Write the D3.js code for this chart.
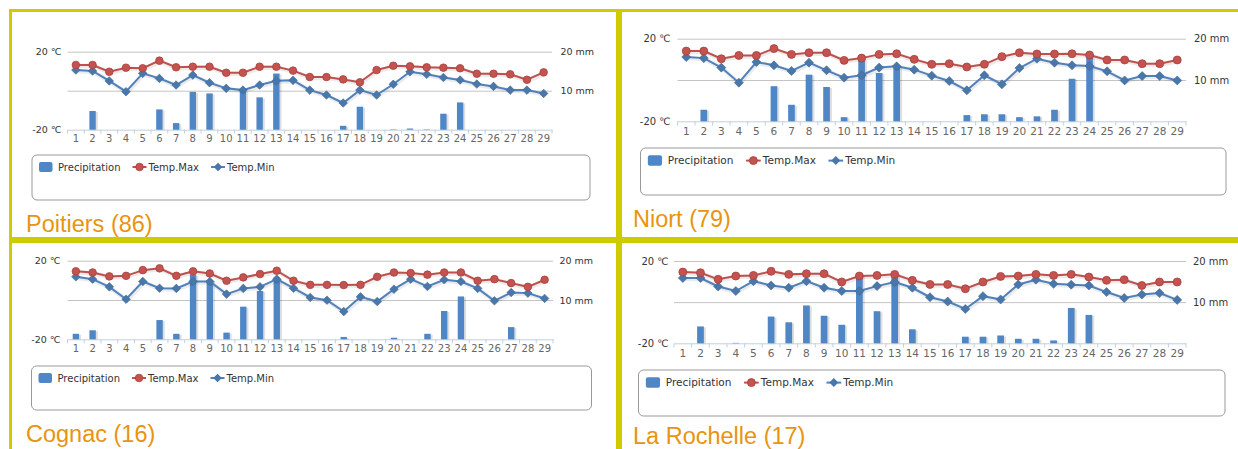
<!DOCTYPE html>
<html>
<head>
<meta charset="utf-8">
<script src="https://cdn.jsdelivr.net/npm/d3@7"></script>
<style>
  html, body { margin: 0; padding: 0; background: #fff; }
  svg { display: block; }
</style>
</head>
<body>
<svg id="chart" width="1238" height="449"></svg>
<script>
// tick labels / categories
var days = [1,2,3,4,5,6,7,8,9,10,11,12,13,14,15,16,17,18,19,20,21,22,23,24,25,26,27,28,29];
var tempLabels = [-20, 20];
var tempGrid = [0, 20];
var precipLabels = [10, 20];
var seriesNames = ["Precipitation", "Temp.Max", "Temp.Min"];
var stationNames = ["Poitiers (86)", "Niort (79)", "Cognac (16)", "La Rochelle (17)"];

// Poitiers
var poitiersPrecip = [0,4.8,0,0,0,5.2,1.7,9.7,9.3,0,10.0,8.3,14.4,0,0,0,1.0,5.9,0,0.1,0.3,0.1,4.1,7.0,0,0,0,0,0];
var poitiersMax = [13.2,13.2,9.7,11.8,11.5,15.4,12.0,12.3,12.3,9.2,9.2,12.3,12.3,10.3,7.0,7.0,5.8,4.3,10.6,12.8,12.5,12.0,11.8,11.5,8.7,8.7,8.4,5.6,9.4];
var poitiersMin = [10.6,10.1,5.0,-0.5,8.9,6.3,2.9,8.0,4.1,1.2,0.3,2.9,5.1,5.3,0.3,-2.2,-6.3,0.3,-2.2,3.3,9.7,8.4,6.8,5.5,3.4,2.2,0.3,0.3,-1.4];

// Niort
var niortPrecip = [0,2.8,0,0,0,8.5,4.0,11.3,8.3,1.0,15.0,11.7,13.2,0,0,0,1.5,1.7,1.7,1.0,1.2,2.8,10.3,16.0,0,0,0,0,0];
var niortMax = [14.0,14.0,10.3,11.9,11.9,15.2,12.4,13.2,13.2,9.5,10.6,12.4,12.7,10.0,7.6,7.9,6.3,7.6,11.3,13.2,12.6,12.6,12.7,12.1,9.7,9.7,7.9,7.9,9.7];
var niortMin = [11.1,10.6,6.0,-1.3,8.7,7.1,4.4,8.4,4.7,1.1,2.3,6.0,6.6,5.0,2.1,-0.5,-5.0,2.3,-2.1,5.8,10.3,8.4,7.1,6.8,4.2,-0.2,1.9,1.9,-0.2];

// Cognac
var cognacPrecip = [1.4,2.3,0,0,0,4.9,1.4,16.4,15.1,1.7,8.3,12.3,15.7,0,0,0,0.6,0,0,0.4,0,1.4,7.2,10.9,0,0,3.1,0,0];
var cognacMax = [14.6,14.0,12.0,12.3,15.2,16.1,12.3,14.6,13.5,9.8,11.5,13.2,14.9,9.8,7.7,7.7,7.6,7.7,11.8,14.0,13.7,12.9,14.0,14.0,9.8,10.6,8.6,6.7,10.3];
var cognacMin = [11.8,10.6,6.7,0.4,9.4,6.0,5.9,9.4,9.4,3.0,5.9,6.7,10.6,6.0,1.3,-0.1,-5.9,1.6,-0.8,5.5,10.6,6.9,10.3,9.4,5.9,-0.4,3.8,3.5,0.8];

// La Rochelle
var rochellePrecip = [0,4.1,0,0.1,0,6.5,5.1,9.2,6.7,4.5,16.7,7.8,17.0,3.4,0,0,1.6,1.6,1.9,1.1,1.1,0.7,8.6,6.9,0,0,0,0,0];
var rochelleMax = [14.6,14.3,11.1,12.7,13.0,15.0,13.5,13.8,13.8,9.8,12.7,13.0,13.5,10.6,8.6,8.6,6.5,9.8,12.5,12.7,13.5,13.0,13.5,12.2,10.6,10.9,8.1,9.8,9.8];
var rochelleMin = [11.7,11.7,7.6,5.4,10.2,8.1,7.0,10.2,7.0,5.4,5.4,7.8,9.8,7.0,2.4,0.3,-3.3,2.9,1.3,8.6,10.9,8.9,8.5,8.1,4.9,2.0,3.7,4.4,1.1];

var stations = [
    {name: stationNames[0], precip: poitiersPrecip, max: poitiersMax, min: poitiersMin},
    {name: stationNames[1], precip: niortPrecip, max: niortMax, min: niortMin},
    {name: stationNames[2], precip: cognacPrecip, max: cognacMax, min: cognacMin},
    {name: stationNames[3], precip: rochellePrecip, max: rochelleMax, min: rochelleMin}
];

// where each screenshot sits on the page
var layouts = [
    {x0: 67.5, x1: 552, top: 51.7, bottom: 129.7, leftLab: 61.5, rightLab: 560.5, box: [32, 155, 558, 45], title: [26, 232], k: 1},
    {x0: 677.5, x1: 1186, top: 38.7, bottom: 121.3, leftLab: 670.5, rightLab: 1194, box: [640.5, 148, 585.5, 47], title: [633, 227], k: 1.05},
    {x0: 67.5, x1: 553, top: 260.7, bottom: 339.3, leftLab: 60.5, rightLab: 559.5, box: [31.5, 366, 560, 44], title: [26, 442], k: 1},
    {x0: 674, x1: 1186, top: 261, bottom: 343.3, leftLab: 668.5, rightLab: 1193, box: [638.5, 370, 586.5, 46], title: [633, 443.5], k: 1.05}
];

var barColor = "#4f86c6";
var maxColor = "#c0504d";
var minColor = "#4f81bd";
var frameColor = "#cccc00";
var font = "'DejaVu Sans', Verdana, sans-serif";

var svg = d3.select("#chart");

//frame
svg.append("rect").attr("x", 9).attr("y", 9).attr("width", 1229).attr("height", 3).attr("fill", frameColor);
svg.append("rect").attr("x", 9).attr("y", 9).attr("width", 3).attr("height", 440).attr("fill", frameColor);
svg.append("rect").attr("x", 616).attr("y", 9).attr("width", 6).attr("height", 440).attr("fill", frameColor);
svg.append("rect").attr("x", 9).attr("y", 237).attr("width", 1229).attr("height", 6).attr("fill", frameColor);

function diamond(r) {
    return "M0," + (-r) + "L" + r + ",0L0," + r + "L" + (-r) + ",0Z";
}

function drawPanel(st, L) {
    var k = L.k;
    var g = svg.append("g");

    var x = d3.scaleBand().domain(days).range([L.x0, L.x1]);
    var yT = d3.scaleLinear().domain([-20, 20]).range([L.bottom, L.top]);
    var yP = d3.scaleLinear().domain([0, 20]).range([L.bottom, L.top]);
    var cx = function(i) { return x(days[i]) + x.bandwidth() / 2; };

    //grid lines
    g.append("g")
        .attr("transform", "translate(" + L.x0 + ",0)")
        .call(d3.axisLeft(yT).tickValues(tempGrid).tickSize(-(L.x1 - L.x0)).tickFormat(""))
        .call(function(a) { a.select(".domain").remove(); })
        .selectAll("line").attr("stroke", "#c4c4c4");

    //left labels
    g.append("g")
        .attr("transform", "translate(" + L.x0 + ",0)")
        .call(d3.axisLeft(yT).tickValues(tempLabels).tickSize(0)
            .tickPadding(L.x0 - L.leftLab)
            .tickFormat(function(d) { return d + " \u2103"; }))
        .call(function(a) { a.select(".domain").remove(); })
        .selectAll("text")
        .style("font-family", font).style("font-size", (9.5 * k) + "px").attr("fill", "#333");

    //right labels
    g.append("g")
        .attr("transform", "translate(" + L.x1 + ",0)")
        .call(d3.axisRight(yP).tickValues(precipLabels).tickSize(0)
            .tickPadding(L.rightLab - L.x1)
            .tickFormat(function(d) { return d + " mm"; }))
        .call(function(a) { a.select(".domain").remove(); })
        .selectAll("text")
        .style("font-family", font).style("font-size", (9.5 * k) + "px").attr("fill", "#333");

    //x axis
    var xa = g.append("g")
        .attr("transform", "translate(0," + L.bottom + ")")
        .call(d3.axisBottom(x).tickSize(0).tickPadding(5.7 * k));
    xa.select(".domain").attr("stroke", "#c0d0e0");
    xa.selectAll("text")
        .style("font-family", font).style("font-size", (10 * k) + "px").attr("fill", "#666");
    g.selectAll(".xtick")
        .data(days.concat([null]))
        .enter().append("line")
        .attr("x1", function(d) { return d === null ? L.x1 : x(d); })
        .attr("x2", function(d) { return d === null ? L.x1 : x(d); })
        .attr("y1", L.bottom)
        .attr("y2", L.bottom + 4 * k)
        .attr("stroke", "#c0d0e0");

    //bars
    var bw = x.bandwidth() * 0.38;
    var bars = g.append("g");
    var pdata = st.precip.map(function(v, i) { return {i: i, v: v}; }).filter(function(d) { return d.v > 0; });
    bars.selectAll(".shadow").data(pdata).enter().append("rect")
        .attr("x", function(d) { return cx(d.i) - bw / 2 + 2; })
        .attr("y", function(d) { return yP(d.v) + 1; })
        .attr("width", bw)
        .attr("height", function(d) { return Math.max(0, L.bottom - yP(d.v) - 1); })
        .attr("fill", "#000").attr("opacity", 0.13);
    bars.selectAll(".bar").data(pdata).enter().append("rect")
        .attr("x", function(d) { return cx(d.i) - bw / 2; })
        .attr("y", function(d) { return yP(d.v); })
        .attr("width", bw)
        .attr("height", function(d) { return L.bottom - yP(d.v); })
        .attr("fill", barColor);

    //lines
    var line = d3.line()
        .x(function(d, i) { return cx(i); })
        .y(function(d) { return yT(d); });

    [[st.min, minColor], [st.max, maxColor]].forEach(function(s) {
        g.append("path").datum(s[0])
            .attr("d", line).attr("fill", "none")
            .attr("transform", "translate(1,1)")
            .attr("stroke", "#000").attr("stroke-opacity", 0.08).attr("stroke-width", 4.5);
        g.append("path").datum(s[0])
            .attr("d", line).attr("fill", "none")
            .attr("stroke", s[1]).attr("stroke-width", 2);
    });

    g.selectAll(".dmd").data(st.min).enter().append("path")
        .attr("d", diamond(4.3 * k))
        .attr("transform", function(d, i) { return "translate(" + cx(i) + "," + yT(d) + ")"; })
        .attr("fill", "#4a77a9").attr("stroke", "#3f6a99").attr("stroke-width", 0.6);

    g.selectAll(".dot").data(st.max).enter().append("circle")
        .attr("cx", function(d, i) { return cx(i); })
        .attr("cy", function(d) { return yT(d); })
        .attr("r", 3.8 * k)
        .attr("fill", "#c4524e").attr("stroke", "#a8403c").attr("stroke-width", 0.8);

    //legend
    var b = L.box;
    g.append("rect")
        .attr("x", b[0]).attr("y", b[1]).attr("width", b[2]).attr("height", b[3])
        .attr("rx", 5).attr("fill", "#fff").attr("stroke", "#999").attr("stroke-width", 1);

    var iy = b[1] + 12 * k;
    var ix = b[0] + 7 * k;
    seriesNames.forEach(function(name, n) {
        if (n === 0) {
            g.append("rect").attr("x", ix).attr("y", iy - 5 * k)
                .attr("width", 13.5 * k).attr("height", 10 * k).attr("rx", 2)
                .attr("fill", barColor);
        } else {
            var c = n === 1 ? maxColor : minColor;
            g.append("line").attr("x1", ix).attr("x2", ix + 14 * k)
                .attr("y1", iy).attr("y2", iy)
                .attr("stroke", c).attr("stroke-width", 2);
            if (n === 1) {
                g.append("circle").attr("cx", ix + 7 * k).attr("cy", iy).attr("r", 3.8 * k)
                    .attr("fill", "#c4524e").attr("stroke", "#a8403c").attr("stroke-width", 0.8);
            } else {
                g.append("path").attr("d", diamond(4.3 * k))
                    .attr("transform", "translate(" + (ix + 7 * k) + "," + iy + ")")
                    .attr("fill", "#4a77a9");
            }
        }
        var t = g.append("text")
            .attr("x", ix + (n === 0 ? 19 : 16) * k)
            .attr("y", iy + 3.6 * k)
            .style("font-family", font).style("font-size", (10 * k) + "px")
            .attr("fill", "#333")
            .text(name);
        ix = ix + (n === 0 ? 19 : 16) * k + t.node().getComputedTextLength() + 12 * k;
    });

    //station name
    g.append("text")
        .attr("x", L.title[0]).attr("y", L.title[1])
        .style("font-family", "'Liberation Sans', Arial, sans-serif")
        .style("font-size", "23.5px")
        .attr("fill", "#e8940f")
        .text(st.name);
}

stations.forEach(function(st, i) {
    drawPanel(st, layouts[i]);
});
</script>
</body>
</html>
